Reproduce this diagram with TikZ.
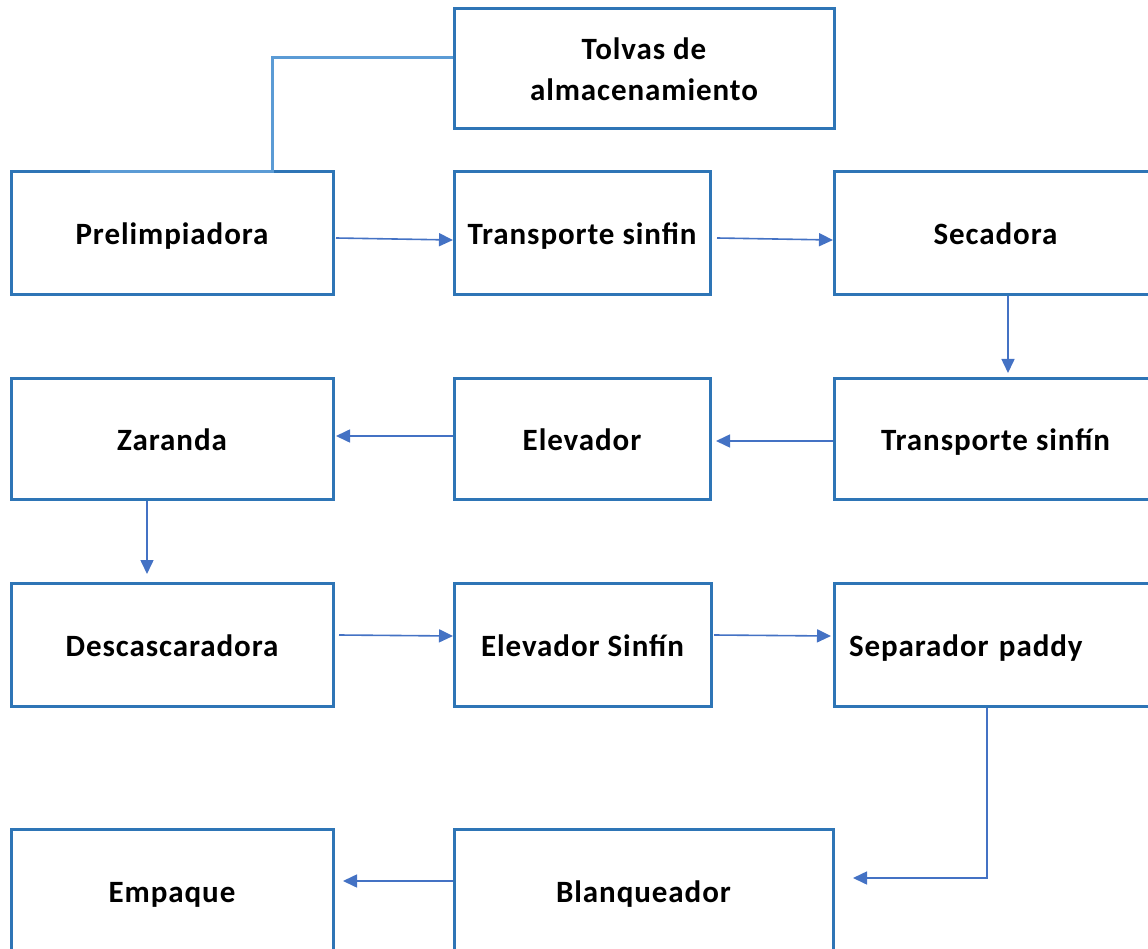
\documentclass[tikz,border=0pt]{standalone}
\usepackage{fontspec}
\setmainfont{Carlito}
\usetikzlibrary{arrows.meta,calc}
\definecolor{boxblue}{HTML}{2E75B6}
\definecolor{arrblue}{HTML}{4472C4}
\definecolor{feedblue}{HTML}{5B9BD5}
\tikzset{
  box/.style={draw=boxblue, line width=3pt, rectangle, outer sep=0pt, inner sep=0pt,
    font=\fontsize{31}{41}\selectfont\bfseries\addfontfeature{LetterSpace=3}, align=center},
  one/.style={text height=23pt, text depth=0pt},
  flow/.style={draw=arrblue, line width=1.6pt, -{Triangle[length=14pt,width=13pt]}},
  feed/.style={draw=feedblue, line width=3pt}
}
\begin{document}
\begin{tikzpicture}[x=1pt,y=-1pt]
\useasboundingbox (0,0) rectangle (1148,949);
\clip (0,0) rectangle (1148,949);
\node[box, minimum width=380, minimum height=120] (tol) at (644,69) {Tolvas de\\almacenamiento};
\node[box, one, minimum width=322, minimum height=123] (prel) at (172,233.5) {Prelimpiadora};
\node[box, one, minimum width=256, minimum height=123] (ts1) at (582,233.5) {Transporte sinfin};
\node[box, one, minimum width=323, minimum height=123] (sec) at (995.5,233.5) {Secadora};
\node[box, one, minimum width=322, minimum height=121] (zar) at (172,438.5) {Zaranda};
\node[box, one, minimum width=256, minimum height=121] (elev) at (582,438.5) {Elevador};
\node[box, one, minimum width=323, minimum height=121] (ts2) at (995.5,438.5) {Transporte sinfín};
\node[box, one, minimum width=322, minimum height=123] (desc) at (172,644.5) {Descascaradora};
\node[box, one, minimum width=257, minimum height=123] (es) at (582.5,644.5) {Elevador Sinfín};
\node[box, one, minimum width=323, minimum height=123, text width=293, inner xsep=15pt, align=left] (sep) at (995.5,644.5) {Separador paddy};
\node[box, one, minimum width=322, minimum height=123] (emp) at (172,890.5) {Empaque};
\node[box, one, minimum width=379, minimum height=123] (blan) at (643.5,890.5) {Blanqueador};
\draw[feed] ($(tol.west)+(-1,-11)$) -| ($(prel.north)+(100,0)$) -- ($(prel.north west)+(79,0)$);
\draw[flow] ($(prel.east)+(3,4.5)$) -- ($(ts1.west)+(-1,6.5)$);
\draw[flow] ($(ts1.east)+(7,4.5)$) -- ($(sec.west)+(-1,6.5)$);
\draw[flow] ($(sec.south)+(12.5,1.5)$) -- ($(ts2.north)+(12.5,-5)$);
\draw[flow] ($(ts2.west)+(-1,2.5)$) -- ($(elev.east)+(6,2.5)$);
\draw[flow] ($(elev.west)+(-1,-2.5)$) -- ($(zar.east)+(3,-2.5)$);
\draw[flow] ($(zar.south)+(-25,1.5)$) -- ($(desc.north)+(-25,-9)$);
\draw[flow] ($(desc.east)+(6,-9.5)$) -- ($(es.west)+(-1,-8.5)$);
\draw[flow] ($(es.east)+(3,-9.5)$) -- ($(sep.west)+(-3,-8.5)$);
\draw[flow] ($(sep.south)+(-8.5,1.5)$) |- ($(blan.east)+(20,-12.5)$);
\draw[flow] ($(blan.west)+(-1,-9.5)$) -- ($(emp.east)+(10,-9.5)$);
\end{tikzpicture}
\end{document}
